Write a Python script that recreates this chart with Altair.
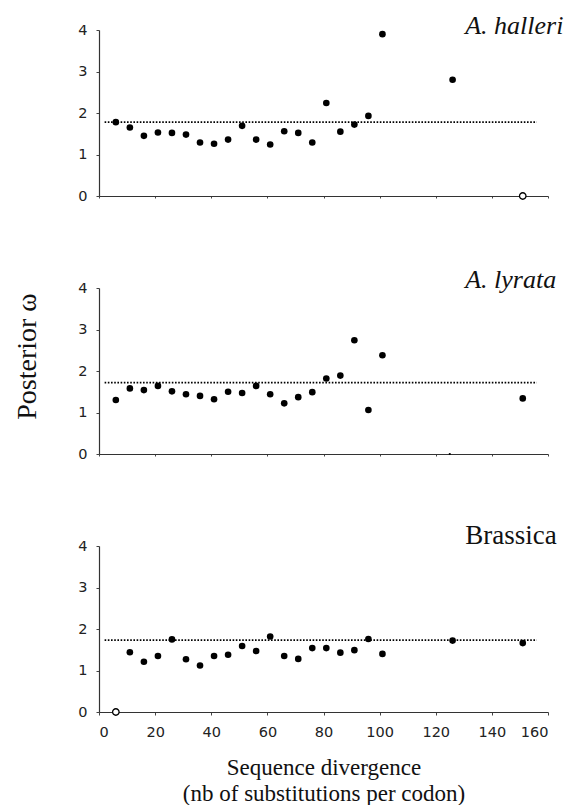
import altair as alt
import pandas as pd

# divergence bins (nb of substitutions per codon)
x_vals = [6, 11, 16, 21, 26, 31, 36, 41, 46, 51, 56, 61, 66, 71, 76, 81, 86, 91, 96, 101, 126, 151]
x_lyrata = [6, 11, 16, 21, 26, 31, 36, 41, 46, 51, 56, 61, 66, 71, 76, 81, 86, 91, 96, 101, 125, 151]

halleri = [1.78, 1.65, 1.45, 1.53, 1.52, 1.48, 1.29, 1.26, 1.36, 1.69, 1.36, 1.24, 1.56, 1.52,
           1.29, 2.24, 1.55, 1.72, 1.93, 3.90, 2.80, 0.0]
halleri_kind = ["f"] * 21 + ["o"]
halleri_mean = 1.78

lyrata = [1.30, 1.58, 1.54, 1.64, 1.51, 1.44, 1.40, 1.32, 1.50, 1.47, 1.64, 1.44, 1.22, 1.37,
          1.49, 1.82, 1.89, 2.74, 1.06, 2.38, 0.0, 1.34]
lyrata_kind = ["f"] * 20 + ["t", "f"]
lyrata_mean = 1.72

brassica = [0.0, 1.44, 1.21, 1.35, 1.75, 1.27, 1.12, 1.35, 1.38, 1.59, 1.47, 1.82, 1.35, 1.28,
            1.54, 1.54, 1.43, 1.49, 1.76, 1.40, 1.72, 1.66]
brassica_kind = ["o"] + ["f"] * 21
brassica_mean = 1.73

titles = ["A. halleri", "A. lyrata", "Brassica"]
title_italic = [True, True, False]
title_y = [3.9, 4.0, 4.05]

SERIF = "Liberation Serif"
W, H = 449, 166


def panel(xs, ys, kinds, mean, title, italic, ty, show_x, show_y_title):
    df = pd.DataFrame({"x": xs, "y": ys, "kind": kinds})
    xscale = alt.Scale(domain=[0, 160], nice=False, zero=True)
    yscale = alt.Scale(domain=[0, 4], nice=False)
    if show_x:
        xaxis = alt.Axis(values=[0, 20, 40, 60, 80, 100, 120, 140, 160],
                         title=["Sequence divergence", "(nb of substitutions per codon)"],
                         titleFont=SERIF, titleFontSize=23, titleFontWeight="normal",
                         titleColor="#111", titleLineHeight=26, titlePadding=18,
                         labelPadding=10)
    else:
        xaxis = alt.Axis(values=[0, 20, 40, 60, 80, 100, 120, 140, 160], labels=False,
                         title=None, tickSize=2)
    if show_y_title:
        yaxis = alt.Axis(values=[0, 1, 2, 3, 4], title="Posterior ω", titleFont=SERIF,
                         titleFontSize=28, titleFontWeight="normal", titleColor="#111",
                         titleX=-64, titleY=68, titleBaseline="alphabetic",
                         titleAngle=270)
    else:
        yaxis = alt.Axis(values=[0, 1, 2, 3, 4], title=None)

    base = alt.Chart(df).encode(
        x=alt.X("x:Q", scale=xscale, axis=xaxis),
        y=alt.Y("y:Q", scale=yscale, axis=yaxis),
    )
    filled = base.transform_filter(alt.datum.kind == "f").mark_circle(
        size=44, color="black", opacity=1)
    opened = base.transform_filter(alt.datum.kind == "o").mark_point(
        shape="circle", filled=False, fill="white", fillOpacity=1, stroke="black",
        strokeWidth=1.3, size=42, opacity=1)
    tiny = base.transform_filter(alt.datum.kind == "t").mark_circle(
        size=5, color="black", opacity=1)

    rule_df = pd.DataFrame({"x": [2], "x2": [156], "y": [mean]})
    rule = alt.Chart(rule_df).mark_rule(
        color="black", strokeDash=[1.6, 1.6], strokeWidth=1.7).encode(
        x="x:Q", x2="x2:Q", y="y:Q")

    tdf = pd.DataFrame({"x": [130.5], "y": [ty], "t": [title]})
    text = alt.Chart(tdf).mark_text(
        font=SERIF, fontSize=26 if italic else 27, fontStyle="italic" if italic else "normal",
        align="left", baseline="alphabetic", color="#111").encode(
        x="x:Q", y="y:Q", text="t:N")

    return alt.layer(rule, filled, opened, tiny, text).properties(width=W, height=H)


p1 = panel(x_vals, halleri, halleri_kind, halleri_mean, titles[0], title_italic[0], title_y[0], False, False)
p2 = panel(x_lyrata, lyrata, lyrata_kind, lyrata_mean, titles[1], title_italic[1], title_y[1], False, True)
p3 = panel(x_vals, brassica, brassica_kind, brassica_mean, titles[2], title_italic[2], title_y[2], True, False)

chart = alt.vconcat(p1, p2, p3, spacing=92, bounds="flush").properties(
    padding={"left": 5, "top": 5, "right": 0, "bottom": 0}
).configure_view(stroke=None).configure_axis(
    grid=False, domainColor="#333", domainWidth=1.2, tickColor="#444", tickSize=3,
    labelFont="DejaVu Sans", labelFontSize=14.5, labelColor="#222", labelPadding=9,
)

chart.save("out.html", embed_options={"renderer": "svg", "actions": False})
